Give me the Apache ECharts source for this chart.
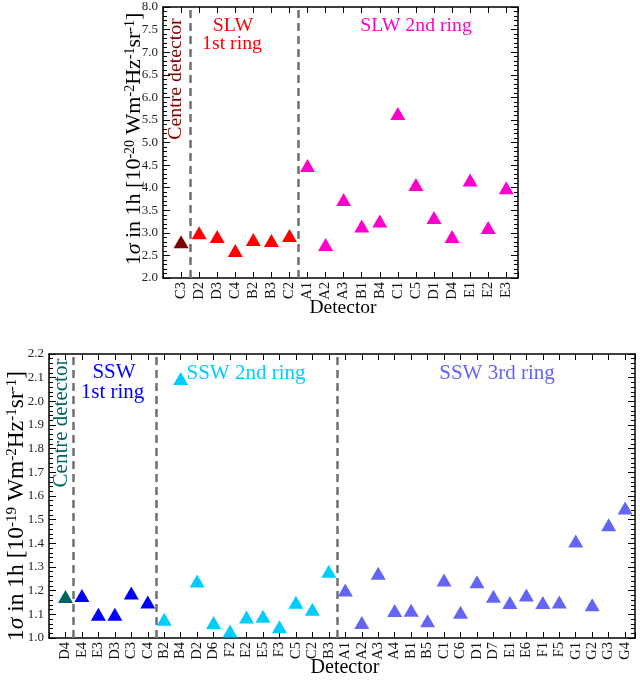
<!DOCTYPE html>
<html><head><meta charset="utf-8">
<script src="https://cdn.jsdelivr.net/npm/echarts@6/dist/echarts.min.js"></script>
<style>html,body{margin:0;padding:0;background:#fff}#c{width:640px;height:680px}</style>
</head><body><div id="c"></div>
<script>
// ---- Top panel (SLW) ----
const topCats = ['C3','D2','D3','C4','B2','B3','C2','A1','A2','A3','B1','B4','C1','C5','D1','D4','E1','E2','E3'];
const topCentre = [2.80];
const topRing1 = [3.00, 2.92, 2.61, 2.85, 2.83, 2.94];
const topRing2 = [4.49, 2.74, 3.74, 3.15, 3.26, 5.64, 4.07, 3.34, 2.92, 4.17, 3.12, 4.00];
const topDividers = [1.5, 7.5];
const topTicks = {min: 2.0, max: 8.0, step: 0.5};

// ---- Bottom panel (SSW) ----
const botCats = ['D4','E4','E3','D3','C3','C4','B2','B4','D2','D6','F2','E2','E5','F3','C5','C2','B3','A1','A2','A3','A4','B1','B5','C1','C6','D1','D7','E1','E6','F1','F5','G1','G2','G3','G4'];
const botCentre = [1.175];
const botRing1 = [1.18, 1.10, 1.10, 1.19, 1.152];
const botRing2 = [1.079, 2.096, 1.241, 1.065, 1.03, 1.089, 1.092, 1.048, 1.151, 1.121, 1.282];
const botRing3 = [1.203, 1.066, 1.274, 1.116, 1.117, 1.073, 1.245, 1.109, 1.238, 1.176, 1.150, 1.182, 1.150, 1.152, 1.41, 1.140, 1.478, 1.549];
const botDividers = [1.5, 6.5, 17.5];
const botTicks = {min: 1.0, max: 2.2, step: 0.1};

const FONT = '"Liberation Serif","Times New Roman",serif';
const chart = echarts.init(document.getElementById('c'), null, {renderer: 'canvas'});

function pts(vals, start) { return vals.map((v, i) => [start + i + 1, v]); }

function xAxes(gridIndex, cats, max) {
  const fmt = v => {
    const i = Math.round(v);
    if (Math.abs(v - i) > 1e-6 || i < 1 || i > cats.length) return '';
    return cats[i - 1];
  };
  const common = {
    type: 'value', gridIndex, min: 0, max, interval: 1,
    splitLine: {show: false},
    axisLine: {show: true, onZero: false, lineStyle: {color: '#000', width: 1.5}},
    axisTick: {show: true, inside: true, length: 6, lineStyle: {color: '#000', width: 1}}
  };
  return [
    Object.assign({}, common, {position: 'bottom',
      axisLabel: {show: true, rotate: 90, margin: 4, formatter: fmt, color: '#111', fontFamily: FONT, fontSize: 14.5}}),
    Object.assign({}, common, {position: 'top', axisLabel: {show: false}})
  ];
}
function yAxes(gridIndex, t) {
  const common = {
    type: 'value', gridIndex, min: t.min, max: t.max, interval: t.step,
    splitLine: {show: false},
    axisLine: {show: true, onZero: false, lineStyle: {color: '#000', width: 1.5}},
    axisTick: {show: true, inside: true, length: 7, lineStyle: {color: '#000', width: 1}},
    minorTick: {show: true, splitNumber: 5, length: 4, lineStyle: {color: '#000', width: 1}}
  };
  return [
    Object.assign({}, common, {position: 'left',
      axisLabel: {show: true, margin: 5, color: '#222', fontFamily: FONT, fontSize: 13,
        formatter: v => v.toFixed(1)}}),
    Object.assign({}, common, {position: 'right', axisLabel: {show: false}})
  ];
}

function scatter(name, x, y, data, color, size) {
  return {name, type: 'scatter', xAxisIndex: x, yAxisIndex: y, data, symbol: 'triangle',
    symbolSize: size, itemStyle: {color, opacity: 1}, clip: false, z: 5};
}
function divider(x, y, vals) {
  return {type: 'scatter', xAxisIndex: x, yAxisIndex: y, data: [], silent: true,
    markLine: {silent: true, symbol: ['none', 'none'], label: {show: false}, animation: false,
      lineStyle: {color: '#707070', type: [8, 5], width: 2.5, opacity: 1},
      emphasis: {disabled: true},
      data: vals.map(v => ({xAxis: v}))}};
}

const tsz = [15, 13];
const bsz = [15, 13];

function txt(x, y, text, color, size, rot) {
  return {type: 'text', x, y, rotation: rot || 0, z: 10,
    style: {text, fill: color, fontFamily: FONT, fontSize: size, align: 'center', verticalAlign: 'middle'}};
}
function ylabel(x, y, exp, size) {
  const s = Math.round(size * 0.62);
  return {type: 'text', x, y, rotation: Math.PI / 2, z: 10,
    style: {
      text: '1{i|σ} in 1h [10{s|' + exp + '} Wm{s|-2}Hz{s|-1}sr{s|-1}]',
      fill: '#000', fontFamily: FONT, fontSize: size, align: 'center', verticalAlign: 'middle',
      rich: {
        i: {fontFamily: FONT, fontSize: size, fontStyle: 'italic', fill: '#000'},
        s: {fontFamily: FONT, fontSize: s, fill: '#000', verticalAlign: 'top', lineHeight: s}
      }
    }};
}

const option = {
  animation: false,
  backgroundColor: '#fff',
  grid: [
    {left: 163, top: 7, width: 355, height: 271},
    {left: 49, top: 354, width: 586, height: 284}
  ],
  xAxis: [...xAxes(0, topCats, 19.65), ...xAxes(1, botCats, 35.6)],
  yAxis: [...yAxes(0, topTicks), ...yAxes(1, botTicks)],
  series: [
    divider(0, 0, topDividers),
    scatter('SLW centre', 0, 0, pts(topCentre, 0), '#800000', tsz),
    scatter('SLW 1st ring', 0, 0, pts(topRing1, topCentre.length), '#ff0000', tsz),
    scatter('SLW 2nd ring', 0, 0, pts(topRing2, topCentre.length + topRing1.length), '#ff00cc', tsz),
    divider(2, 2, botDividers),
    scatter('SSW centre', 2, 2, pts(botCentre, 0), '#006363', bsz),
    scatter('SSW 1st ring', 2, 2, pts(botRing1, botCentre.length), '#0000ff', bsz),
    scatter('SSW 2nd ring', 2, 2, pts(botRing2, botCentre.length + botRing1.length), '#00ccff', bsz),
    scatter('SSW 3rd ring', 2, 2, pts(botRing3, botCentre.length + botRing1.length + botRing2.length), '#6464f5', bsz)
  ],
  graphic: [
    txt(176, 79, 'Centre detector', '#800000', 19.8, Math.PI / 2),
    txt(233, 26, 'SLW', '#ff0000', 19.8),
    txt(232, 44, '1st ring', '#ff0000', 19.8),
    txt(416, 26, 'SLW 2nd ring', '#ff00cc', 19.8),
    txt(343, 308, 'Detector', '#000', 19.5),
    ylabel(134, 139, '-20', 22),
    txt(61, 423, 'Centre detector', '#006363', 21, Math.PI / 2),
    txt(114, 372, 'SSW', '#0000ff', 21),
    txt(112.5, 392, '1st ring', '#0000ff', 21),
    txt(246, 373, 'SSW 2nd ring', '#00ccff', 21),
    txt(497, 373, 'SSW 3rd ring', '#6464f5', 21),
    txt(345, 668, 'Detector', '#000', 20),
    ylabel(17, 506, '-19', 23.5)
  ]
};
chart.setOption(option);
</script>
</body></html>
